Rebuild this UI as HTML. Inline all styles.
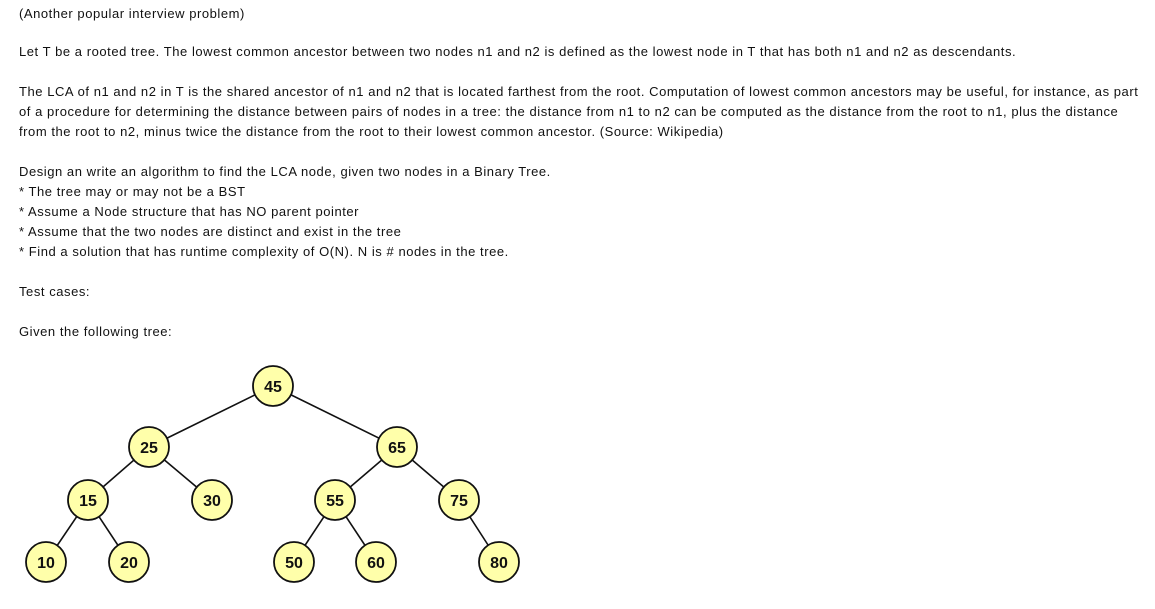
<!DOCTYPE html>
<html><head><meta charset="utf-8"><style>
body{margin:0;background:#fff;width:1155px;height:609px;overflow:hidden;position:relative;font-family:"Liberation Sans",Arial,sans-serif;font-size:13px;color:#111;}
.l{position:absolute;left:19px;line-height:16px;white-space:nowrap;letter-spacing:0.55px;}
svg{position:absolute;left:0;top:0;}
</style></head><body>
<div class="l" style="top:6px">(Another popular interview problem)</div>
<div class="l" style="top:44px">Let T be a rooted tree. The lowest common ancestor between two nodes n1 and n2 is defined as the lowest node in T that has both n1 and n2 as descendants.</div>
<div class="l" style="top:84px">The LCA of n1 and n2 in T is the shared ancestor of n1 and n2 that is located farthest from the root. Computation of lowest common ancestors may be useful, for instance, as part</div>
<div class="l" style="top:104px">of a procedure for determining the distance between pairs of nodes in a tree: the distance from n1 to n2 can be computed as the distance from the root to n1, plus the distance</div>
<div class="l" style="top:124px">from the root to n2, minus twice the distance from the root to their lowest common ancestor. (Source: Wikipedia)</div>
<div class="l" style="top:164px">Design an write an algorithm to find the LCA node, given two nodes in a Binary Tree.</div>
<div class="l" style="top:184px">* The tree may or may not be a BST</div>
<div class="l" style="top:204px">* Assume a Node structure that has NO parent pointer</div>
<div class="l" style="top:224px">* Assume that the two nodes are distinct and exist in the tree</div>
<div class="l" style="top:244px">* Find a solution that has runtime complexity of O(N). N is # nodes in the tree.</div>
<div class="l" style="top:284px">Test cases:</div>
<div class="l" style="top:324px">Given the following tree:</div>
<svg width="1155" height="609" font-family="Liberation Sans, Arial, sans-serif" font-size="16" font-weight="bold">
<g stroke="#111" stroke-width="1.6">
<line x1="273" y1="386" x2="149" y2="447"/><line x1="273" y1="386" x2="397" y2="447"/>
<line x1="149" y1="447" x2="88" y2="500"/><line x1="149" y1="447" x2="212" y2="500"/>
<line x1="397" y1="447" x2="335" y2="500"/><line x1="397" y1="447" x2="459" y2="500"/>
<line x1="88" y1="500" x2="46" y2="562"/><line x1="88" y1="500" x2="129" y2="562"/>
<line x1="335" y1="500" x2="294" y2="562"/><line x1="335" y1="500" x2="376" y2="562"/>
<line x1="459" y1="500" x2="499" y2="562"/>
</g>
<g fill="#ffffaa" stroke="#111" stroke-width="1.8">
<circle cx="273" cy="386" r="20"/><circle cx="149" cy="447" r="20"/><circle cx="397" cy="447" r="20"/>
<circle cx="88" cy="500" r="20"/><circle cx="212" cy="500" r="20"/><circle cx="335" cy="500" r="20"/><circle cx="459" cy="500" r="20"/>
<circle cx="46" cy="562" r="20"/><circle cx="129" cy="562" r="20"/><circle cx="294" cy="562" r="20"/><circle cx="376" cy="562" r="20"/><circle cx="499" cy="562" r="20"/>
</g>
<g fill="#111" text-anchor="middle">
<text x="273" y="392">45</text><text x="149" y="453">25</text><text x="397" y="453">65</text>
<text x="88" y="506">15</text><text x="212" y="506">30</text><text x="335" y="506">55</text><text x="459" y="506">75</text>
<text x="46" y="568">10</text><text x="129" y="568">20</text><text x="294" y="568">50</text><text x="376" y="568">60</text><text x="499" y="568">80</text>
</g>
</svg>
</body></html>
